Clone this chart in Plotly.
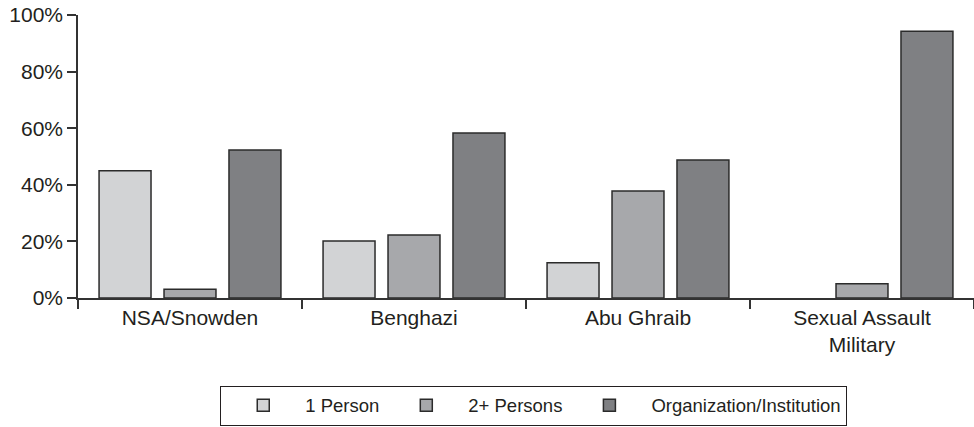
import plotly.graph_objects as go

categories = ["NSA/Snowden", "Benghazi", "Abu Ghraib", "Sexual Assault<br>Military"]
one_person = [45.0, 20.1, 12.5, 0.0]
two_plus = [3.1, 22.3, 37.8, 5.0]
organization = [52.3, 58.3, 48.8, 94.3]
series_names = ["1 Person", "2+ Persons", "Organization/Institution"]
colors = ["#d2d3d5", "#a7a8ab", "#7f8083"]

FONT = "Liberation Sans, Arial, Helvetica, sans-serif"
fig = go.Figure()
for name, vals, col in zip(series_names, [one_person, two_plus, organization], colors):
    fig.add_trace(go.Bar(
        x=categories, y=vals, name=name,
        marker=dict(color=col, line=dict(color="#2b2b2b", width=[0 if v == 0 else 1.5 for v in vals])),
    ))

fig.update_layout(
    width=974, height=427,
    margin=dict(l=78, r=0, t=15, b=129),
    plot_bgcolor="white", paper_bgcolor="white",
    barmode="group", bargap=0.13, bargroupgap=0.2,
    font=dict(family=FONT, size=21, color="#231f20"),
    showlegend=True,
    legend=dict(orientation="h", xref="container", yref="container",
                x=0.548, xanchor="center", y=0.003, yanchor="bottom",
                bordercolor="#231f20", borderwidth=1, font=dict(size=18.5), traceorder="normal",
                itemwidth=74),
)
fig.update_xaxes(showline=True, linecolor="#333333", linewidth=1.5, ticks="outside", tickson="boundaries",
                 ticklen=9, tickcolor="#333333", tickwidth=1.5, showgrid=False, automargin=False)
fig.update_yaxes(range=[0, 100], showline=True, linecolor="#333333", linewidth=1.5, ticks="outside",
                 ticklen=9, tickcolor="#333333", tickwidth=1.5, dtick=20, ticksuffix="%", showgrid=False,
                 zeroline=False, automargin=False, ticklabeloverflow="allow")
fig.write_html("out.html", config={"displayModeBar": False},
               post_script="document.body.style.margin='0px';document.body.style.overflow='hidden';")
